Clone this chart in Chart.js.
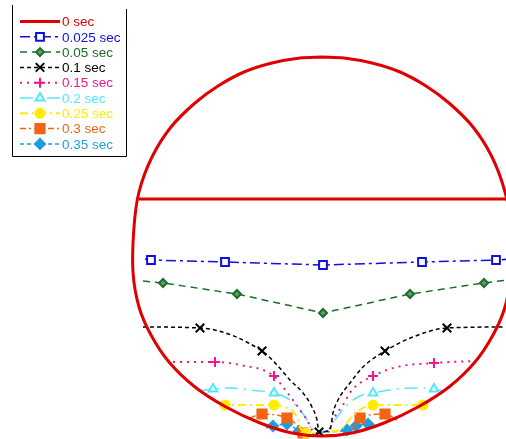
<!DOCTYPE html>
<html>
<head>
<meta charset="utf-8">
<script src="https://cdn.jsdelivr.net/npm/chart.js@4.4.0/dist/chart.umd.min.js"></script>
<style>
  html, body { margin: 0; padding: 0; background: #fff; }
  #wrap { position: relative; width: 506px; height: 439px; }
</style>
</head>
<body>
<div id="wrap"><canvas id="tank" width="506" height="439"></canvas></div>
<script>
// coordenadas en mm, origen en el centro del tanque
// pared del tanque (0 sec)
const wallX = [0, -22, -50, -78, -104, -127, -151, -170, -183, -188, -189, -183, -171, -153, -127, -96, -62, -30, 0, 30, 62, 96, 127, 153, 171, 183, 189, 189, 183, 170, 151, 127, 104, 78, 50, 22, 0];
const wallY = [190, 189, 184, 175, 161, 144, 120, 90, 55, 20, -25, -60, -88, -115, -140, -160, -176, -186, -189, -186, -176, -160, -140, -115, -88, -60, -25, 20, 55, 90, 120, 144, 161, 175, 184, 189, 190];
// superficie libre inicial
const surfX = [-183, 189];
const surfY = [48, 48];

const s025X = [-177, -171, -97, 1, 100, 174, 190];
const s025Y = [-12, -13, -15, -18, -15, -13, -12];
const s025M = [1, 2, 3, 4, 5];

const s05X = [-179, -159, -85, 1, 88, 162, 186];
const s05Y = [-34, -36, -47, -66, -47, -36, -33];
const s05M = [1, 2, 3, 4, 5];

const s1X = [-179, -122, -60, -45, -32, -19, -10, -5, -3, 8, 11, 16, 28, 41, 63, 91, 125, 181];
const s1Y = [-80, -81, -104, -118, -133, -146, -160, -173, -185, -183, -166, -153, -136, -120, -104, -90, -81, -80];
const s1M = [1, 2, 8, 14, 16];

const s15X = [-149, -107, -82, -48, -39, -29, -22, -15, -10, -7, 8, 11, 21, 30, 51, 75, 112, 152];
const s15Y = [-115, -115, -118, -129, -140, -153, -163, -173, -183, -186, -181, -173, -158, -143, -129, -120, -116, -114];
const s15M = [1, 3, 14, 16];

const s2X = [-124, -109, -92, -72, -48, -35, -22, -15, -10, -8, 8, 15, 25, 38, 51, 75, 95, 112, 126];
const s2Y = [-144, -142, -141, -143, -146, -151, -163, -173, -183, -187, -180, -170, -158, -149, -146, -142, -141, -142, -145];
const s2M = [1, 4, 14, 17];

const s25X = [-102, -97, -48, -35, -25, -22, -16, 18, 23, 30, 41, 51, 101, 104];
const s25Y = [-158, -158, -158, -161, -170, -180, -186, -183, -178, -170, -161, -158, -158, -158];
const s25M = [1, 2, 6, 11, 12];

const s3X = [-72, -60, -35, -25, -19, -2, 26, 32, 38, 63, 75];
const s3Y = [-171, -167, -171, -178, -186, -188, -187, -180, -171, -167, -173];
const s3M = [1, 2, 4, 8, 9];

const s35X = [-56, -49, -35, -23, -12, 6, 25, 34, 46, 53];
const s35Y = [-181, -179, -177, -184, -187, -185, -183, -179, -177, -178];
const s35M = [1, 2, 3, 6, 7, 8];

const pts = (xs, ys) => xs.map((x, i) => ({ x: x, y: ys[i] }));

function serie(label, xs, ys, marks, color, dash, style, radius, fill, width, curva) {
  return {
    label: label,
    data: pts(xs, ys),
    showLine: true,
    borderColor: color,
    borderWidth: width || 1.5,
    borderDash: dash,
    cubicInterpolationMode: curva ? "monotone" : "default",
    pointStyle: style,
    radio: radius,
    pointRadius: (ctx) => (marks.includes(ctx.dataIndex) ? radius : 0),
    pointHoverRadius: 0,
    pointBorderColor: color,
    pointBackgroundColor: fill,
    pointBorderWidth: 2,
  };
}

const series = [
  serie("0.025 sec", s025X, s025Y, s025M, "#1010d8", [10, 4, 3, 4], "rect", 5.5, "#ffffff", 1.5, false),
  serie("0.05 sec", s05X, s05Y, s05M, "#1c6e28", [7, 5], "rectRot", 4, "#6a9a6a", 1.5, false),
  serie("0.1 sec", s1X, s1Y, s1M, "#000000", [4, 3], "crossRot", 6, "#000000", 1.5, true),
  serie("0.15 sec", s15X, s15Y, s15M, "#f0168c", [2, 5], "cross", 5, "#f0168c", 2, true),
  serie("0.2 sec", s2X, s2Y, s2M, "#55e6ff", [13, 6, 2, 6], "triangle", 5, "#ffffff", 1.5, true),
  serie("0.25 sec", s25X, s25Y, s25M, "#ffec00", [8, 4, 2, 4], "circle", 4.5, "#ffec00", 2, true),
  serie("0.3 sec", s3X, s3Y, s3M, "#f06414", [6, 3, 2, 3], "rect", 6.5, "#f06414", 1.5, true),
  serie("0.35 sec", s35X, s35Y, s35M, "#1e9ee0", [4, 3], "rectRot", 5, "#1e9ee0", 1.5, true),
];

const wall = {
  label: "0 sec",
  data: pts(wallX, wallY),
  showLine: true,
  tension: 0.3,
  borderColor: "#e00000",
  borderWidth: 3,
  pointRadius: 0,
  pointHoverRadius: 0,
};
const surf = Object.assign({}, wall, { label: "", tension: 0, data: pts(surfX, surfY) });

// leyenda dibujada en el canvas, dentro del área
const leyenda = {
  id: "leyenda",
  afterDraw(chart) {
    const ctx = chart.ctx;
    const items = [wall].concat(series);
    ctx.save();
    ctx.fillStyle = "#ffffff";
    ctx.fillRect(12, 5, 114, 151);
    ctx.strokeStyle = "#000000";
    ctx.lineWidth = 1;
    ctx.beginPath();
    ctx.moveTo(12.5, 5);
    ctx.lineTo(12.5, 156.5);
    ctx.lineTo(126.5, 156.5);
    ctx.lineTo(126.5, 9);
    ctx.stroke();
    ctx.font = "13.5px 'Liberation Sans', Arial, sans-serif";
    ctx.textBaseline = "middle";
    items.forEach((d, i) => {
      const y = 21.5 + i * 15.3;
      ctx.setLineDash(d.borderDash || []);
      ctx.strokeStyle = d.borderColor;
      ctx.lineWidth = d.borderWidth;
      ctx.beginPath();
      ctx.moveTo(20, y);
      ctx.lineTo(60, y);
      ctx.stroke();
      ctx.setLineDash([]);
      if (d.pointStyle) {
        ctx.fillStyle = d.pointBackgroundColor;
        ctx.strokeStyle = d.pointBorderColor;
        ctx.lineWidth = d.pointBorderWidth;
        Chart.helpers.drawPoint(ctx, { pointStyle: d.pointStyle, radius: d.radio, borderWidth: 2, rotation: 0 }, 40, y);
      }
      ctx.fillStyle = d.borderColor;
      ctx.fillText(d.label, 62, y + 1);
    });
    ctx.restore();
  },
};

new Chart(document.getElementById("tank"), {
  type: "scatter",
  data: { datasets: [wall, surf].concat(series) },
  options: {
    responsive: false,
    animation: false,
    layout: { padding: 0 },
    scales: {
      x: { type: "linear", min: -322, max: 184, display: false },
      y: { type: "linear", min: -192, max: 247, display: false },
    },
    plugins: {
      legend: { display: false },
      tooltip: { enabled: false },
    },
  },
  plugins: [leyenda],
});
</script>
</body>
</html>
